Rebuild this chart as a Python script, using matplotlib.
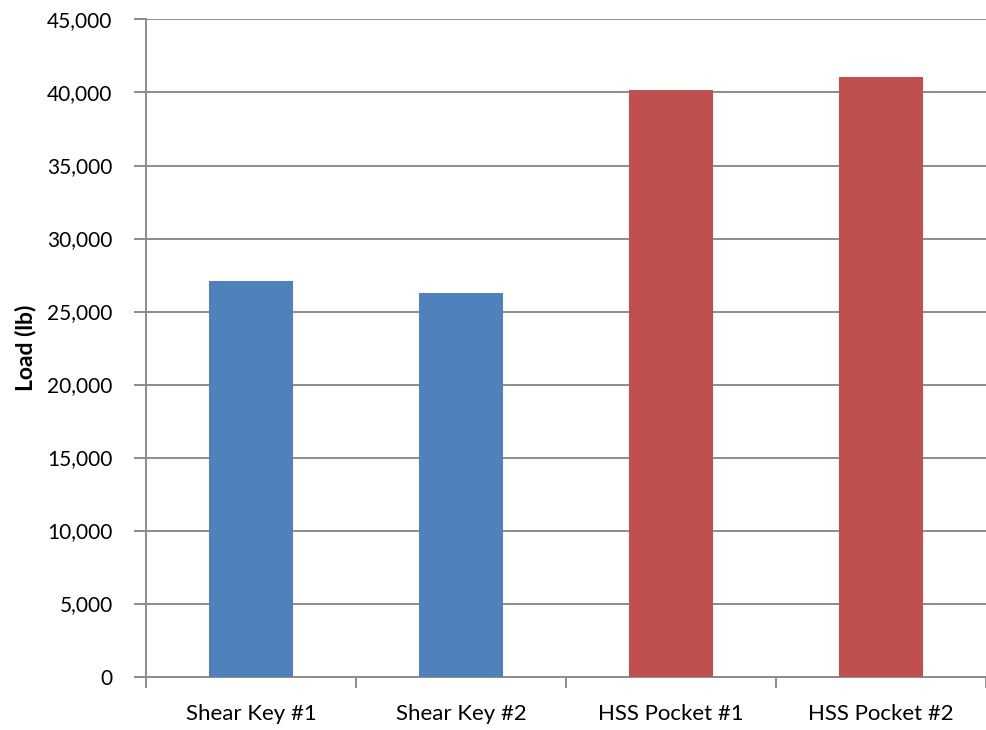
import matplotlib.pyplot as plt
from matplotlib.ticker import FuncFormatter, MultipleLocator, FixedLocator

plt.rcParams['font.family'] = ['Lato', 'DejaVu Sans']

categorias = ['Shear Key #1', 'Shear Key #2', 'HSS Pocket #1', 'HSS Pocket #2']
cargas = [27100, 26250, 40180, 41090]
colores = ['#4F81BD', '#4F81BD', '#C0504D', '#C0504D']

fig = plt.figure(figsize=(9.86, 7.3), dpi=100)
ax = fig.add_axes([0.148, 0.0732, 0.852, 0.9001])

x = range(len(categorias))
ax.bar(x, cargas, width=0.4, color=colores, zorder=3)

ax.set_xlim(-0.5, 3.5)
ax.set_ylim(0, 45000)
ax.yaxis.set_major_locator(MultipleLocator(5000))
ax.yaxis.set_major_formatter(FuncFormatter(lambda v, p: '{:,.0f}'.format(v)))
ax.grid(axis='y', color='#8c8c8c', linewidth=1.4, zorder=0)

ax.set_xticks(list(x))
ax.set_xticklabels(categorias)
ax.xaxis.set_minor_locator(FixedLocator([-0.5, 0.5, 1.5, 2.5, 3.5]))
ax.tick_params(axis='x', which='major', length=0, pad=20, labelsize=16)
ax.tick_params(axis='x', which='minor', length=8, width=1.4, color='#8c8c8c')
ax.tick_params(axis='y', length=9, width=1.4, color='#8c8c8c', labelsize=15, pad=15)

for lado in ['top', 'right']:
    ax.spines[lado].set_visible(False)
for lado in ['left', 'bottom']:
    ax.spines[lado].set_color('#8c8c8c')
    ax.spines[lado].set_linewidth(1.4)

ax.set_ylabel('Load (lb)', fontsize=16.5, fontweight='bold', labelpad=8)

fig.savefig('out.png', dpi=100)
